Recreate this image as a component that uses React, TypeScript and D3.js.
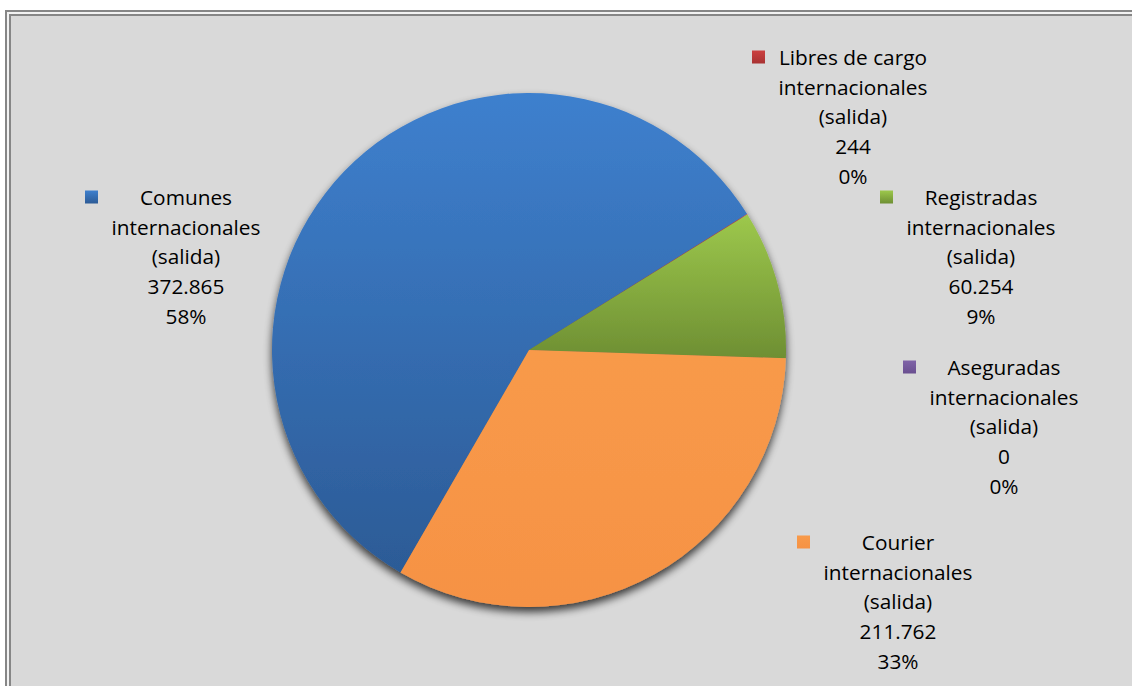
import React from "react";
import * as d3 from "d3";

const categories = [
  "Comunes internacionales (salida)",
  "Libres de cargo internacionales (salida)",
  "Registradas internacionales (salida)",
  "Aseguradas internacionales (salida)",
  "Courier internacionales (salida)",
];
const values = [372865, 244, 60254, 0, 211762];
const valueLabels = ["372.865", "244", "60.254", "0", "211.762"];
const percentLabels = ["58%", "0%", "9%", "0%", "33%"];
const labelLines = [
  ["Comunes", "internacionales", "(salida)"],
  ["Libres de cargo", "internacionales", "(salida)"],
  ["Registradas", "internacionales", "(salida)"],
  ["Aseguradas", "internacionales", "(salida)"],
  ["Courier", "internacionales", "(salida)"],
];
const colorsTop = ["#3e80ce", "#cc4040", "#9dc84c", "#8064a8", "#f89a4a"];
const colorsBottom = ["#2c5b96", "#a83232", "#6e8f33", "#6a4f90", "#f69244"];
// label block centre (x) and first-line centre (y)
const labelPos: [number, number][] = [
  [186, 197],
  [853, 57],
  [981, 197],
  [1004, 367],
  [898, 542],
];

export default function App() {
  const W = 1132;
  const H = 686;
  const cx = 529;
  const cy = 350;
  const r = 257;
  const lineH = 29.7;
  const startDeg = 210;

  const pie = d3
    .pie<number>()
    .sort(null)
    .value((d) => d)
    .startAngle((startDeg * Math.PI) / 180)
    .endAngle(((startDeg + 360) * Math.PI) / 180);
  const arcs = pie(values);
  const arc = d3.arc<d3.PieArcDatum<number>>().innerRadius(0).outerRadius(r);

  return (
    <svg
      width={W}
      height={H}
      style={{ position: "absolute", left: 0, top: 0, background: "#ffffff" }}
    >
      <defs>
        {categories.map((c, i) => (
          <linearGradient key={c} id={`g${i}`} x1="0" y1="0" x2="0" y2="1">
            <stop offset="0%" stopColor={colorsTop[i]} />
            <stop offset="100%" stopColor={colorsBottom[i]} />
          </linearGradient>
        ))}
        <filter id="shadow" x="-20%" y="-20%" width="140%" height="140%">
          <feGaussianBlur in="SourceAlpha" stdDeviation="4" />
          <feOffset dx="0" dy="5" result="b" />
          <feComponentTransfer>
            <feFuncA type="linear" slope="0.75" />
          </feComponentTransfer>
          <feMerge>
            <feMergeNode />
            <feMergeNode in="SourceGraphic" />
          </feMerge>
        </filter>
      </defs>
      <rect x={6} y={11} width={W + 20} height={H + 20} fill="#f2f2f2" stroke="#868686" strokeWidth={2} />
      <rect x={10} y={15} width={W + 20} height={H + 20} fill="#d9d9d9" stroke="#868686" strokeWidth={2} />

      <g transform={`translate(${cx},${cy})`} filter="url(#shadow)">
        {arcs.map((a, i) => (
          <path key={categories[i]} d={arc(a) || ""} fill={`url(#g${i})`} />
        ))}
      </g>

      <g fontFamily="'Open Sans', 'Liberation Sans', sans-serif" fontSize={20.8} fill="#000">
        {categories.map((c, i) => {
          const [lx, ly] = labelPos[i];
          const lines = [...labelLines[i], valueLabels[i], percentLabels[i]];
          return (
            <g key={c}>
              <rect x={lx - 101} y={ly - 6.5} width={13} height={13} fill={`url(#g${i})`} />
              {lines.map((t, j) => (
                <text key={j} x={lx} y={ly + j * lineH} textAnchor="middle" dominantBaseline="central">
                  {t}
                </text>
              ))}
            </g>
          );
        })}
      </g>
    </svg>
  );
}
